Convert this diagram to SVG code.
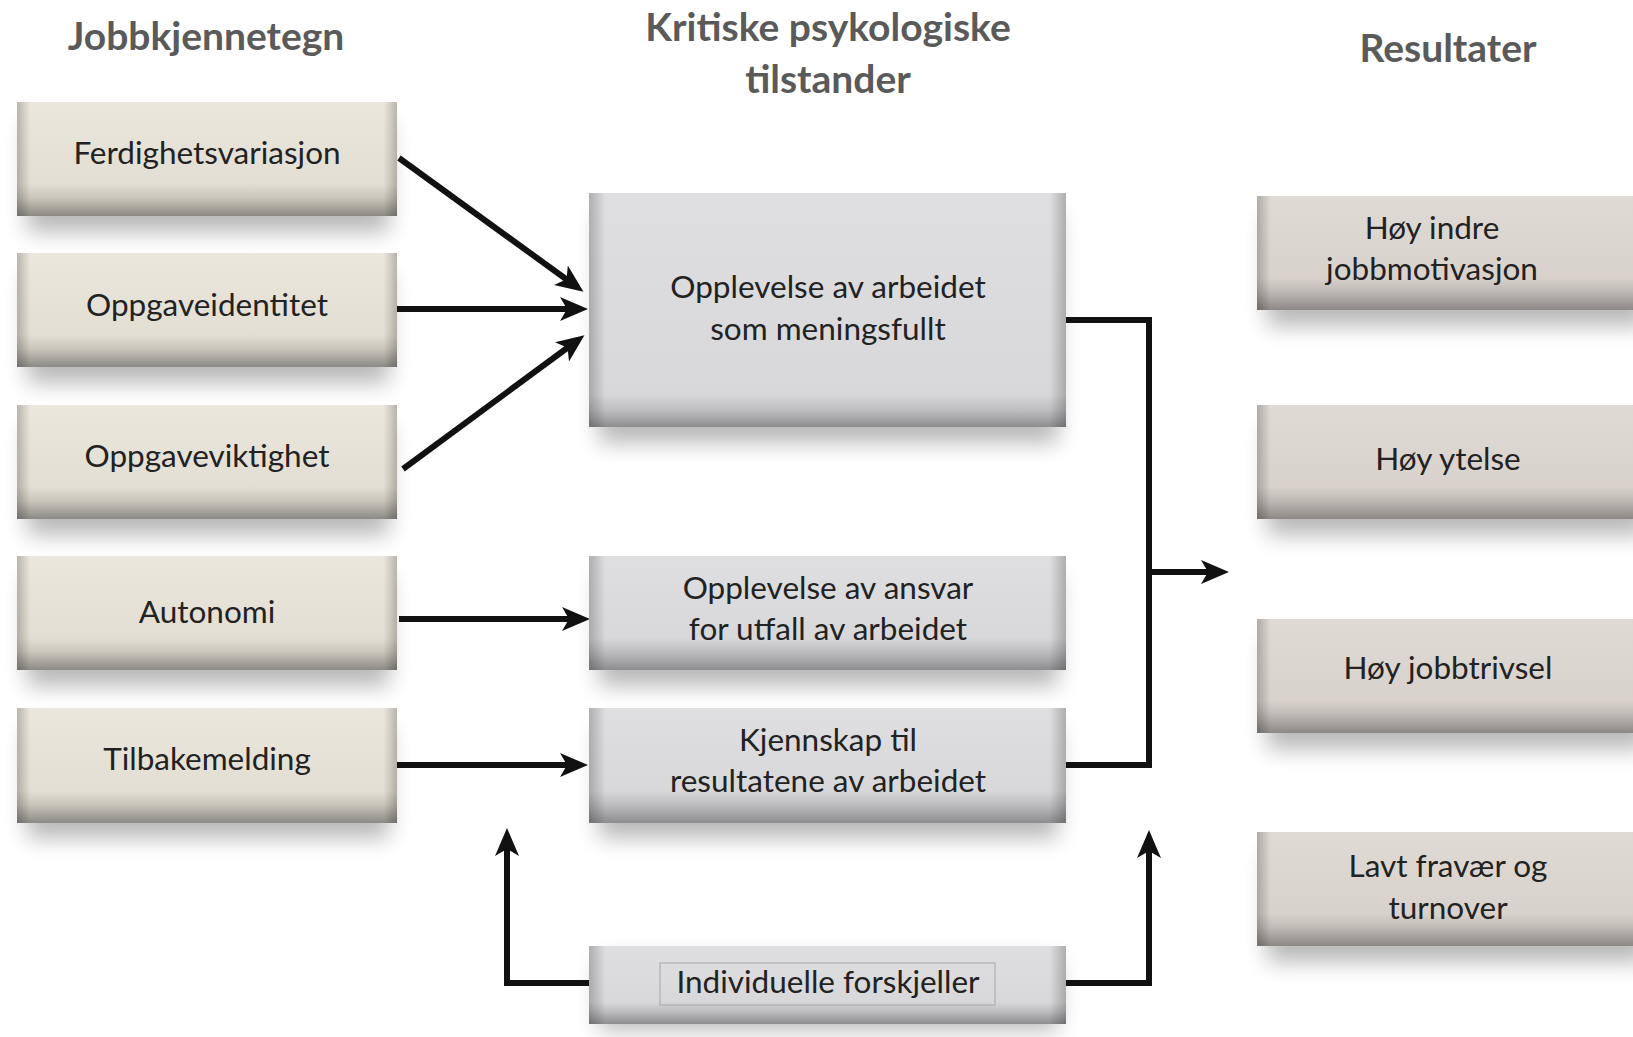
<svg xmlns="http://www.w3.org/2000/svg" width="1633" height="1037" viewBox="0 0 1633 1037">
<defs>
<style>
.t{font-family:Lato,"Open Sans","Liberation Sans",sans-serif;font-size:31.5px;fill:#222;text-anchor:middle}
.h{font-family:Lato,"Open Sans","Liberation Sans",sans-serif;font-size:39px;font-weight:bold;fill:#5a5a5a;text-anchor:middle}
.c{fill:none;stroke:#111;stroke-width:6;stroke-linejoin:miter}
.edge{fill:url(#hEdge)}
.sh{fill:#000;opacity:0.28;filter:url(#blur)}
</style>
<linearGradient id="gL" x1="0" y1="0" x2="0" y2="1">
<stop offset="0" stop-color="#ebe7de"/><stop offset="0.72" stop-color="#e3ded3"/><stop offset="0.84" stop-color="#c9c5bb"/><stop offset="1" stop-color="#8c8a84"/>
</linearGradient>
<linearGradient id="gM" x1="0" y1="0" x2="0" y2="1">
<stop offset="0" stop-color="#dfdfe1"/><stop offset="0.72" stop-color="#d8d8da"/><stop offset="0.84" stop-color="#bdbdc0"/><stop offset="1" stop-color="#8d8d90"/>
</linearGradient>
<linearGradient id="gMb" x1="0" y1="0" x2="0" y2="1">
<stop offset="0" stop-color="#dfdfe1"/><stop offset="0.86" stop-color="#d8d8da"/><stop offset="0.93" stop-color="#bdbdc0"/><stop offset="1" stop-color="#8d8d90"/>
</linearGradient>
<linearGradient id="gR" x1="0" y1="0" x2="0" y2="1">
<stop offset="0" stop-color="#e0dad4"/><stop offset="0.72" stop-color="#d9d2cc"/><stop offset="0.84" stop-color="#bfb9b4"/><stop offset="1" stop-color="#8c8885"/>
</linearGradient>
<linearGradient id="hEdge" x1="0" y1="0" x2="1" y2="0">
<stop offset="0" stop-color="#000" stop-opacity="0.22"/><stop offset="0.035" stop-color="#000" stop-opacity="0"/><stop offset="0.965" stop-color="#000" stop-opacity="0"/><stop offset="1" stop-color="#000" stop-opacity="0.22"/>
</linearGradient>
<filter id="blur" x="-20%" y="-50%" width="140%" height="200%"><feGaussianBlur stdDeviation="11"/></filter>
<marker id="ar" markerUnits="userSpaceOnUse" markerWidth="30" markerHeight="24" refX="20" refY="12" orient="auto">
<path d="M0,0 L28,12 L0,24 L7,12 z" fill="#111"/>
</marker>
</defs>
<rect width="1633" height="1037" fill="#fff"/>

<g id="titles">
<text class="h" x="206" y="50">Jobbkjennetegn</text>
<text class="h" x="828" y="41">Kritiske psykologiske</text>
<text class="h" x="828" y="93">tilstander</text>
<text class="h" x="1448" y="62">Resultater</text>
</g>

<g id="shadows">
<rect class="sh" x="27" y="122" width="362" height="110"/>
<rect class="sh" x="27" y="273" width="362" height="110"/>
<rect class="sh" x="27" y="425" width="362" height="110"/>
<rect class="sh" x="27" y="576" width="362" height="110"/>
<rect class="sh" x="27" y="728" width="362" height="110"/>
<rect class="sh" x="599" y="213" width="459" height="230"/>
<rect class="sh" x="599" y="576" width="459" height="110"/>
<rect class="sh" x="599" y="728" width="459" height="110"/>
<rect class="sh" x="599" y="960" width="459" height="70"/>
<rect class="sh" x="1267" y="216" width="380" height="110"/>
<rect class="sh" x="1267" y="425" width="380" height="110"/>
<rect class="sh" x="1267" y="639" width="380" height="110"/>
<rect class="sh" x="1267" y="852" width="380" height="110"/>
</g>

<g id="connectors">
<line class="c" x1="399" y1="158" x2="577" y2="287" marker-end="url(#ar)"/>
<line class="c" x1="397" y1="309" x2="580" y2="309" marker-end="url(#ar)"/>
<line class="c" x1="403" y1="469" x2="578" y2="340" marker-end="url(#ar)"/>
<line class="c" x1="399" y1="619" x2="582" y2="619" marker-end="url(#ar)"/>
<line class="c" x1="397" y1="765" x2="580" y2="765" marker-end="url(#ar)"/>
<polyline class="c" points="1066,320 1149,320 1149,765 1066,765"/>
<line class="c" x1="1146" y1="572" x2="1221" y2="572" marker-end="url(#ar)"/>
<polyline class="c" points="589,983 507,983 507,836" marker-end="url(#ar)"/>
<polyline class="c" points="1066,983 1149,983 1149,838" marker-end="url(#ar)"/>
</g>

<g id="n-ferdighetsvariasjon">
<rect x="17" y="102" width="380" height="114" fill="url(#gL)"/><rect class="edge" x="17" y="102" width="380" height="114"/>
<text class="t" x="207" y="164">Ferdighetsvariasjon</text>
</g>
<g id="n-oppgaveidentitet">
<rect x="17" y="253" width="380" height="114" fill="url(#gL)"/><rect class="edge" x="17" y="253" width="380" height="114"/>
<text class="t" x="207" y="316">Oppgaveidentitet</text>
</g>
<g id="n-oppgaveviktighet">
<rect x="17" y="405" width="380" height="114" fill="url(#gL)"/><rect class="edge" x="17" y="405" width="380" height="114"/>
<text class="t" x="207" y="467">Oppgaveviktighet</text>
</g>
<g id="n-autonomi">
<rect x="17" y="556" width="380" height="114" fill="url(#gL)"/><rect class="edge" x="17" y="556" width="380" height="114"/>
<text class="t" x="207" y="623">Autonomi</text>
</g>
<g id="n-tilbakemelding">
<rect x="17" y="708" width="380" height="115" fill="url(#gL)"/><rect class="edge" x="17" y="708" width="380" height="115"/>
<text class="t" x="207" y="770">Tilbakemelding</text>
</g>

<g id="n-meningsfullt">
<rect x="589" y="193" width="477" height="234" fill="url(#gMb)"/><rect class="edge" x="589" y="193" width="477" height="234"/>
<text class="t" x="828" y="298">Opplevelse av arbeidet</text>
<text class="t" x="828" y="340">som meningsfullt</text>
</g>
<g id="n-ansvar">
<rect x="589" y="556" width="477" height="114" fill="url(#gM)"/><rect class="edge" x="589" y="556" width="477" height="114"/>
<text class="t" x="828" y="599">Opplevelse av ansvar</text>
<text class="t" x="828" y="640">for utfall av arbeidet</text>
</g>
<g id="n-kjennskap">
<rect x="589" y="708" width="477" height="115" fill="url(#gM)"/><rect class="edge" x="589" y="708" width="477" height="115"/>
<text class="t" x="828" y="751">Kjennskap til</text>
<text class="t" x="828" y="792">resultatene av arbeidet</text>
</g>
<g id="n-individuelle">
<rect x="589" y="946" width="477" height="78" fill="url(#gM)"/><rect class="edge" x="589" y="946" width="477" height="78"/>
<rect x="660" y="963" width="335" height="42" fill="none" stroke="#b0b0b2" stroke-width="1.2"/>
<text class="t" x="828" y="993">Individuelle forskjeller</text>
</g>

<g id="n-motivasjon">
<rect x="1257" y="196" width="390" height="114" fill="url(#gR)"/><rect class="edge" x="1257" y="196" width="390" height="114"/>
<text class="t" x="1432" y="239">Høy indre</text>
<text class="t" x="1432" y="280">jobbmotivasjon</text>
</g>
<g id="n-ytelse">
<rect x="1257" y="405" width="390" height="114" fill="url(#gR)"/><rect class="edge" x="1257" y="405" width="390" height="114"/>
<text class="t" x="1448" y="470">Høy ytelse</text>
</g>
<g id="n-jobbtrivsel">
<rect x="1257" y="619" width="390" height="114" fill="url(#gR)"/><rect class="edge" x="1257" y="619" width="390" height="114"/>
<text class="t" x="1448" y="679">Høy jobbtrivsel</text>
</g>
<g id="n-fravaer">
<rect x="1257" y="832" width="390" height="114" fill="url(#gR)"/><rect class="edge" x="1257" y="832" width="390" height="114"/>
<text class="t" x="1448" y="877">Lavt fravær og</text>
<text class="t" x="1448" y="919">turnover</text>
</g>
</svg>
